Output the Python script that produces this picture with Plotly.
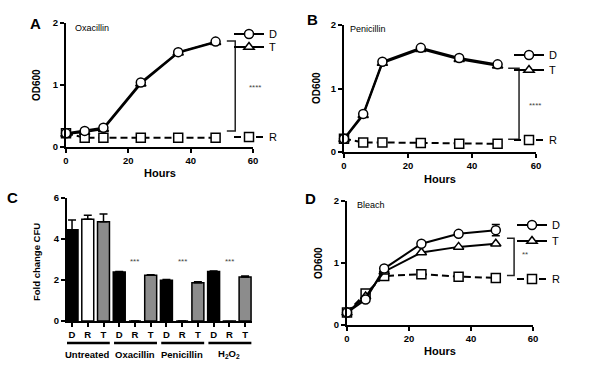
import plotly.graph_objects as go

W, H = 599, 365
FONT = "Liberation Sans, Arial, sans-serif"

# ---------------- data ----------------
hours = [0, 6, 12, 24, 36, 48]

oxa_D = [0.22, 0.26, 0.31, 1.04, 1.53, 1.70]
oxa_T = [0.21, 0.24, 0.29, 1.02, 1.52, 1.69]
oxa_R = [0.22, 0.15, 0.15, 0.15, 0.15, 0.15]

pen_D = [0.21, 0.60, 1.42, 1.64, 1.48, 1.38]
pen_T = [0.20, 0.58, 1.40, 1.62, 1.46, 1.36]
pen_R = [0.21, 0.15, 0.15, 0.14, 0.13, 0.13]

bl_D = [0.20, 0.41, 0.91, 1.31, 1.47, 1.53]
bl_D_err = [0.02, 0.02, 0.02, 0.03, 0.03, 0.09]
bl_T = [0.20, 0.46, 0.86, 1.17, 1.26, 1.31]
bl_R = [0.20, 0.51, 0.79, 0.82, 0.78, 0.76]

cfu_groups = ["Untreated", "Oxacillin", "Penicillin", "H<sub>2</sub>O<sub>2</sub>"]
cfu_strains = ["D", "R", "T"]
cfu_values = [4.45, 4.96, 4.84, 2.39, 0.0, 2.23, 1.99, 0.0, 1.86, 2.41, -0.02, 2.15]
cfu_err = [0.48, 0.20, 0.38, 0.02, 0.0, 0.03, 0.03, 0.0, 0.05, 0.03, 0.0, 0.05]
strain_colors = {"D": "black", "R": "white", "T": "#8c8c8c"}

y_ticks_od = [0, 1, 2]
x_ticks_h = [0, 20, 40, 60]
y_ticks_cfu = [0, 2, 4, 6]


# ---------------- helpers ----------------
def px_x(p):
    return p / W


def px_y(p):
    return 1 - p / H


def dom_x(a, b):
    return [a / W, b / W]


def dom_y(top, bottom):
    return [1 - bottom / H, 1 - top / H]


axis_common = dict(
    showline=True, linecolor="black", linewidth=2,
    ticks="outside", ticklen=4, tickwidth=1.5, tickcolor="black",
    showgrid=False, zeroline=False, automargin=False,
    tickfont=dict(family=FONT, size=9.5, color="black", weight="bold"),
)

fig = go.Figure()

marker_style = {
    "D": dict(symbol="circle", size=9),
    "T": dict(symbol="triangle-up", size=9),
    "R": dict(symbol="square", size=9),
}

legend_ids = iter(["legend"] + [f"legend{i}" for i in range(2, 10)])
legend_layout = {}


def add_series(xa, ya, name, yvals, legend_pos, err=None):
    lid = next(legend_ids)
    dash = "7px,4px" if name == "R" else "solid"
    ms = marker_style[name]
    tr = go.Scatter(
        x=hours, y=yvals, name=name, mode="lines+markers",
        xaxis=xa, yaxis=ya, cliponaxis=False,
        line=dict(color="black", width=2, dash=dash),
        marker=dict(symbol=ms["symbol"], size=ms["size"], color="white",
                    line=dict(color="black", width=1.5)),
        legend=lid, showlegend=True,
    )
    if err is not None:
        tr.error_y = dict(type="data", array=err, color="black", thickness=1.5, width=4)
    fig.add_trace(tr)
    mx, my = legend_pos
    legend_layout[lid] = dict(
        x=px_x(mx - 24), y=px_y(my), xanchor="left", yanchor="middle",
        bgcolor="rgba(0,0,0,0)", borderwidth=0, itemwidth=30,
        font=dict(family=FONT, size=11, color="black"),
    )


# Panel A
add_series("x", "y", "R", oxa_R, (253, 137))
add_series("x", "y", "T", oxa_T, (253, 47))
add_series("x", "y", "D", oxa_D, (253, 34))
# Panel B
add_series("x2", "y2", "R", pen_R, (533, 140))
add_series("x2", "y2", "T", pen_T, (533, 70))
add_series("x2", "y2", "D", pen_D, (533, 55))
# Panel D
add_series("x4", "y4", "R", bl_R, (536, 279))
add_series("x4", "y4", "T", bl_T, (536, 241))
add_series("x4", "y4", "D", bl_D, (536, 225), err=bl_D_err)

# Panel C bars
bar_x = list(range(len(cfu_values)))
bar_labels = [cfu_strains[i % 3] for i in bar_x]
fig.add_trace(go.Bar(
    x=bar_x, y=cfu_values, xaxis="x3", yaxis="y3", width=0.76,
    marker=dict(color=[strain_colors[s] for s in bar_labels],
                line=dict(color="black", width=1.5)),
    error_y=dict(type="data", array=cfu_err, arrayminus=[0] * len(cfu_err),
                 symmetric=False, color="black", thickness=1.5, width=4),
    showlegend=False, cliponaxis=False,
))

layout = dict(
    width=W, height=H, margin=dict(l=0, r=0, t=0, b=0, pad=0, autoexpand=False),
    paper_bgcolor="white", plot_bgcolor="white",
    font=dict(family=FONT, color="black"),
    xaxis=dict(axis_common, domain=dom_x(66, 253), range=[0, 60], tickvals=x_ticks_h, anchor="y"),
    yaxis=dict(axis_common, domain=dom_y(23, 147), range=[0, 2], tickvals=y_ticks_od, anchor="x"),
    xaxis2=dict(axis_common, domain=dom_x(344, 536), range=[0, 60], tickvals=x_ticks_h, anchor="y2"),
    yaxis2=dict(axis_common, domain=dom_y(25, 152), range=[0, 2], tickvals=y_ticks_od, anchor="x2"),
    xaxis3=dict(axis_common, domain=dom_x(67, 252), range=[-0.32, 11.44],
                tickvals=bar_x, ticktext=bar_labels, anchor="y3"),
    yaxis3=dict(axis_common, domain=dom_y(198, 321), range=[0, 6], tickvals=y_ticks_cfu, anchor="x3"),
    xaxis4=dict(axis_common, domain=dom_x(347, 533), range=[0, 60], tickvals=x_ticks_h, anchor="y4"),
    yaxis4=dict(axis_common, domain=dom_y(201, 325), range=[0, 2], tickvals=y_ticks_od, anchor="x4"),
)
layout.update(legend_layout)
fig.update_layout(**layout)

# ---------------- brackets ----------------
def bracket(xref, yref, x0, x1, ytop, ybot):
    fig.add_shape(type="path", xref=xref, yref=yref,
                  path=f"M {x0},{ytop} L {x1},{ytop} L {x1},{ybot} L {x0},{ybot}",
                  line=dict(color="#222", width=1.5))


bracket("x", "y", 51.6, 54.3, 1.71, 0.26)
bracket("x2", "y2", 51.3, 54.7, 1.32, 0.20)
bracket("x4", "y4", 51.6, 53.9, 1.40, 0.80)

# group underlines in panel C
for g in range(len(cfu_groups)):
    c = g * 3 + 1
    fig.add_shape(type="line", xref="x3", yref="paper", x0=c - 1.33, x1=c + 1.4,
                  y0=px_y(343), y1=px_y(343), line=dict(color="black", width=2.5))
    fig.add_annotation(xref="x3", yref="paper", x=c, y=px_y(354), text=cfu_groups[g],
                       showarrow=False, yanchor="middle",
                       font=dict(family=FONT, size=9.5, weight="bold"))

# ---------------- annotations ----------------
def ann(text, x, y, size=10, bold=False, xanchor="center", angle=0, color="black"):
    fig.add_annotation(xref="paper", yref="paper", x=px_x(x), y=px_y(y), text=text,
                       showarrow=False, xanchor=xanchor, yanchor="middle", textangle=angle,
                       font=dict(family=FONT, size=size, color=color,
                                 weight="bold" if bold else "normal"))


ann("A", 35, 24, 15, True)
ann("B", 312, 19, 15, True)
ann("C", 12, 197, 15, True)
ann("D", 310, 198, 15, True)

ann("Oxacillin", 73, 28, 9, xanchor="left")
ann("Penicillin", 348, 29, 9, xanchor="left")
ann("Bleach", 355, 205, 9, xanchor="left")

ann("OD600", 36, 85, 10, True, angle=-90)
ann("OD600", 316, 88, 10, True, angle=-90)
ann("OD600", 318, 263, 10, True, angle=-90)
ann("Fold change CFU", 36, 262, 9.5, True, angle=-90)

ann("Hours", 160, 173, 11, True)
ann("Hours", 440, 179, 11, True)
ann("Hours", 440, 351, 11, True)

ann("****", 255, 87, 8, color="#444")
ann("****", 535, 106, 8, color="#444")
ann("**", 525, 254, 8, color="#444")

for i in (4, 7, 10):
    fig.add_annotation(xref="x3", yref="y3", x=i, y=2.88, text="***", showarrow=False,
                       font=dict(family=FONT, size=8, color="#444"))

fig.write_html(
    "out.html",
    config={"displayModeBar": False},
    post_script="document.body.style.margin='0';document.body.style.padding='0';"
                "document.body.style.overflow='hidden';",
)
